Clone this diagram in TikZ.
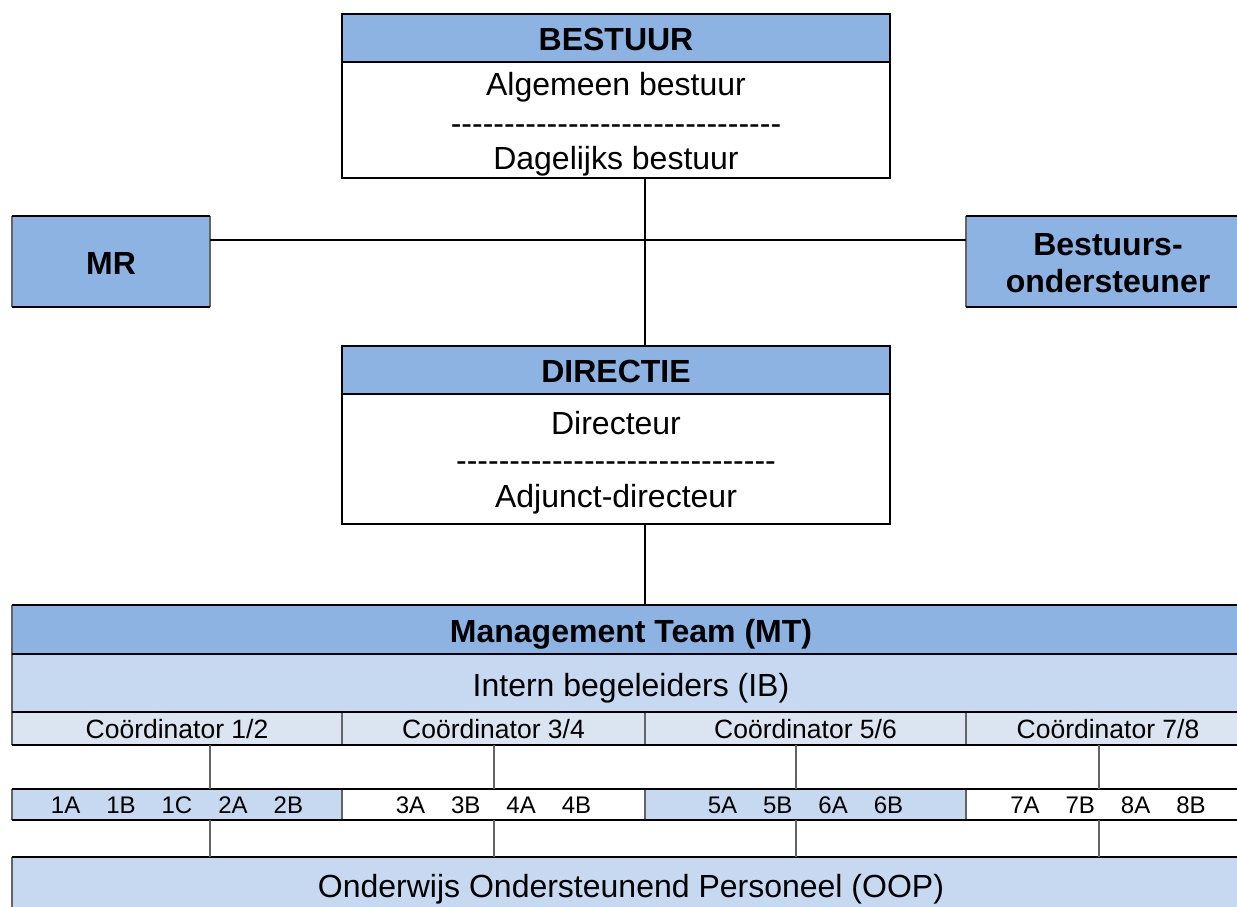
\documentclass[tikz,border=0pt]{standalone}
\usepackage{fontspec}
\setmainfont{Liberation Sans}[Ligatures=TeXOff]
\definecolor{hdr}{RGB}{141,179,226}
\definecolor{lt}{RGB}{198,217,241}
\definecolor{xlt}{RGB}{219,229,241}
\definecolor{edge}{RGB}{100,100,100}
\newcommand\fbig{\fontsize{32}{38}\selectfont}
\newcommand\fmid{\fontsize{26.5}{31}\selectfont}
\newcommand\fsml{\fontsize{24}{28}\selectfont}
\newcommand\gp{\hspace{26pt}}
\tikzset{
  cell/.style={inner sep=0pt, outer sep=0pt, draw=none},
  lbl/.style={inner sep=0pt, outer sep=0pt, anchor=base},
  blk/.style={line width=2.4pt, black},
  gry/.style={line width=1.4pt, edge},
  link/.style={line width=2pt, black},
}
\begin{document}
\begin{tikzpicture}[x=1pt, y=-1pt]
\useasboundingbox (0,0) rectangle (1237,906);
\clip (0,0) rectangle (1237,906);

% reference points for the connector lines
\coordinate (sp) at (645,0);
\coordinate (hl) at (0,240);
\coordinate (v1) at (210,0);
\coordinate (v2) at (494,0);
\coordinate (v3) at (796,0);
\coordinate (v4) at (1099,0);

% ---------- BESTUUR ----------
\node[cell, fill=hdr, minimum width=548, minimum height=48] (bh) at (616,38) {};
\node[cell, fill=white, minimum width=548, minimum height=116] (bb) at (616,120) {};
\draw[blk] (bh.north west) rectangle (bb.south east);
\draw[blk] (bh.south west) -- (bh.south east);
\node[lbl, font=\fbig\bfseries] (bht) at (616,50.5) {BESTUUR};
\node[lbl, font=\fbig] (bt1) at (616,95) {Algemeen bestuur};
\node[lbl, font=\fbig] (bt2) at (616,134) {-------------------------------};
\node[lbl, font=\fbig] (bt3) at (616,169) {Dagelijks bestuur};

% ---------- MR ----------
\node[cell, fill=hdr, minimum width=198, minimum height=91] (mr) at (111,261.5) {};
\draw[gry] (mr.north west) -- (mr.south west) (mr.north east) -- (mr.south east);
\draw[blk] (mr.north west) -- (mr.north east) (mr.south west) -- (mr.south east);
\node[lbl, font=\fbig\bfseries] (mrt) at (111,274) {MR};

% ---------- Bestuursondersteuner ----------
\node[cell, fill=hdr, minimum width=284, minimum height=91] (bo) at (1108,261.5) {};
\draw[gry] (bo.north west) -- (bo.south west);
\draw[blk] (bo.north west) -- (bo.north east) (bo.south west) -- (bo.south east);
\node[lbl, font=\fbig\bfseries] (bo1) at (1108,255) {Bestuurs-};
\node[lbl, font=\fbig\bfseries] (bo2) at (1108,292) {ondersteuner};

% ---------- DIRECTIE ----------
\node[cell, fill=hdr, minimum width=548, minimum height=48] (dh) at (616,370) {};
\node[cell, fill=white, minimum width=548, minimum height=130] (db) at (616,459) {};
\draw[blk] (dh.north west) rectangle (db.south east);
\draw[blk] (dh.south west) -- (dh.south east);
\node[lbl, font=\fbig\bfseries] (dht) at (616,382.5) {DIRECTIE};
\node[lbl, font=\fbig] (dt1) at (616,434) {Directeur};
\node[lbl, font=\fbig] (dt2) at (616,471) {------------------------------};
\node[lbl, font=\fbig] (dt3) at (616,507) {Adjunct-directeur};

% ---------- connectors at the top ----------
\draw[link] (bb.south -| sp) -- (dh.north -| sp);
\draw[link] (mr.east |- hl) -- (bo.west |- hl);

% ---------- team table ----------
\node[cell, fill=hdr, minimum width=1238, minimum height=49] (mt) at (631,629.5) {};
\node[cell, fill=lt, minimum width=1238, minimum height=58] (ib) at (631,683) {};
\node[cell, fill=xlt, minimum width=330, minimum height=33] (c12) at (177,728.5) {};
\node[cell, fill=xlt, minimum width=303, minimum height=33] (c34) at (493.5,728.5) {};
\node[cell, fill=xlt, minimum width=321, minimum height=33] (c56) at (805.5,728.5) {};
\node[cell, fill=xlt, minimum width=284, minimum height=33] (c78) at (1108,728.5) {};
\node[cell, fill=lt, minimum width=330, minimum height=31] (k12) at (177,804.5) {};
\node[cell, fill=white, minimum width=303, minimum height=31] (k34) at (493.5,804.5) {};
\node[cell, fill=lt, minimum width=321, minimum height=31] (k56) at (805.5,804.5) {};
\node[cell, fill=white, minimum width=284, minimum height=31] (k78) at (1108,804.5) {};
\node[cell, fill=lt, minimum width=1238, minimum height=73] (oop) at (631,893.5) {};

\draw[link] (db.south -| sp) -- (mt.north -| sp);

% cell edges
\draw[gry] (mt.north west) -- (ib.south west);
\foreach \c in {c12,c34,c56,c78,k12,k34,k56,k78}
  \draw[gry] (\c.north west) -- (\c.south west);
\draw[gry] (oop.north west) -- (oop.south west);
\draw[blk] (mt.north west) -- (mt.north east);
\draw[blk] (mt.south west) -- (mt.south east);
\draw[blk] (ib.south west) -- (ib.south east);
\draw[blk] (c12.south west) -- (c78.south east);
\draw[blk] (k12.north west) -- (k78.north east);
\draw[blk] (k12.south west) -- (k78.south east);
\draw[blk] (oop.north west) -- (oop.north east);

% links between the rows
\draw[gry] (c12.south -| v1) -- (k12.north -| v1);
\draw[gry] (c34.south -| v2) -- (k34.north -| v2);
\draw[gry] (c56.south -| v3) -- (k56.north -| v3);
\draw[gry] (c78.south -| v4) -- (k78.north -| v4);
\draw[gry] (k12.south -| v1) -- (oop.north -| v1);
\draw[gry] (k34.south -| v2) -- (oop.north -| v2);
\draw[gry] (k56.south -| v3) -- (oop.north -| v3);
\draw[gry] (k78.south -| v4) -- (oop.north -| v4);

% table texts
\node[lbl, font=\fbig\bfseries] (mtt) at (631,642) {Management Team (MT)};
\node[lbl, font=\fbig] (ibt) at (631,696) {Intern begeleiders (IB)};
\node[lbl, font=\fmid] (c12t) at (177,738) {Coördinator 1/2};
\node[lbl, font=\fmid] (c34t) at (493.5,738) {Coördinator 3/4};
\node[lbl, font=\fmid] (c56t) at (805.5,738) {Coördinator 5/6};
\node[lbl, font=\fmid] (c78t) at (1108,738) {Coördinator 7/8};
\node[lbl, font=\fsml] (k12t) at (177,813) {1A\gp 1B\gp 1C\gp 2A\gp 2B};
\node[lbl, font=\fsml] (k34t) at (493.5,813) {3A\gp 3B\gp 4A\gp 4B};
\node[lbl, font=\fsml] (k56t) at (805.5,813) {5A\gp 5B\gp 6A\gp 6B};
\node[lbl, font=\fsml] (k78t) at (1108,813) {7A\gp 7B\gp 8A\gp 8B};
\node[lbl, font=\fbig] (oopt) at (631,897) {Onderwijs Ondersteunend Personeel (OOP)};
\end{tikzpicture}
\end{document}
